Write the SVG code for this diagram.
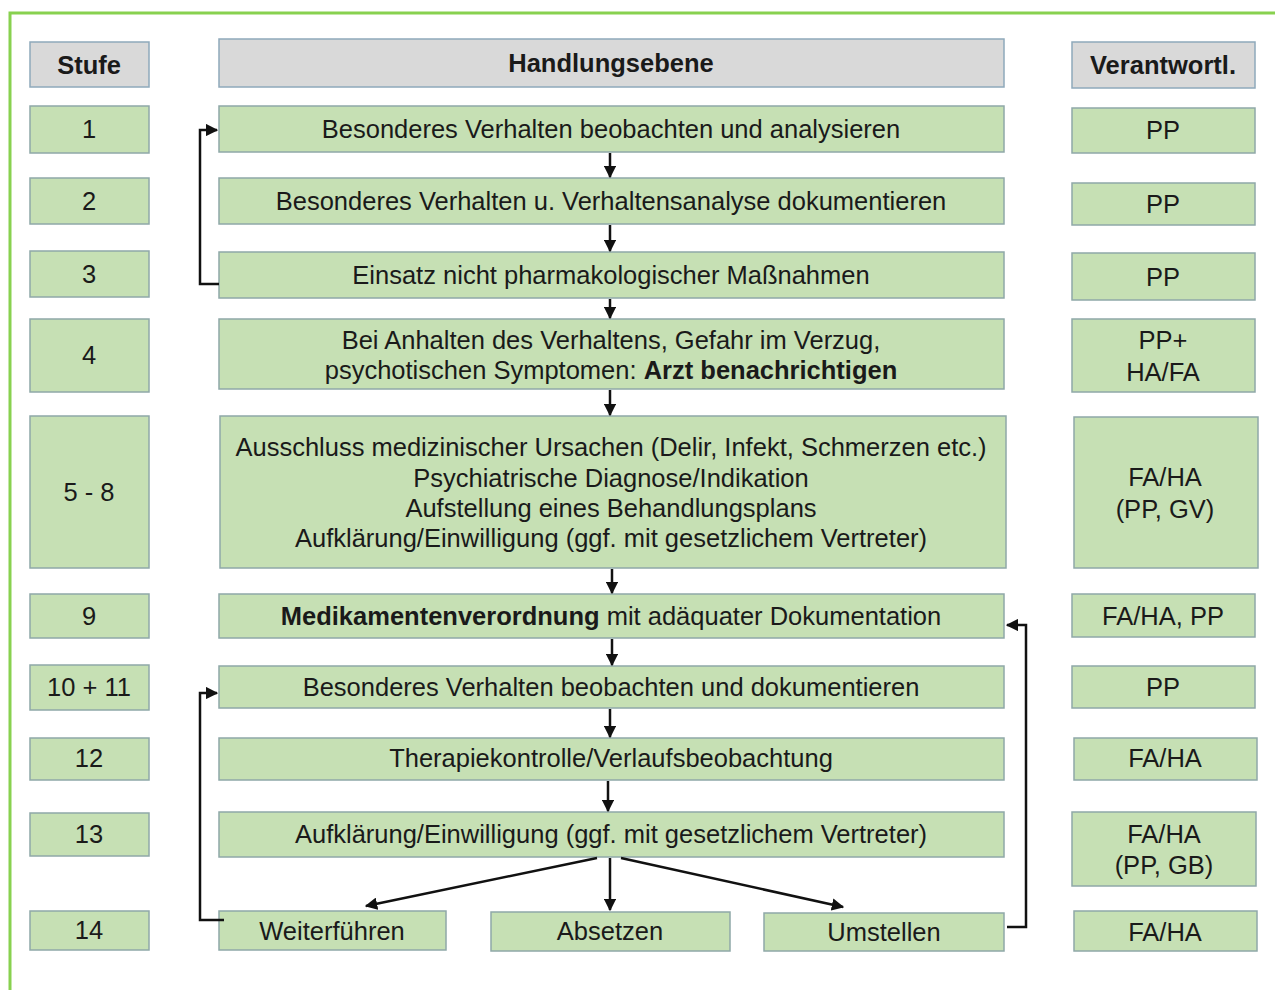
<svg xmlns="http://www.w3.org/2000/svg" width="1275" height="990" viewBox="0 0 1275 990">
<defs>
<style>
.g{fill:#c6e0b4;stroke:#8fa8a8;stroke-width:1.5}
.h{fill:#d9d9d9;stroke:#8ea9bb;stroke-width:1.5}
text{font-family:"Liberation Sans",Arial,sans-serif;font-size:25.5px;fill:#1a1a1a;text-anchor:middle}
.b{font-weight:bold}
.c{fill:none;stroke:#111;stroke-width:2.5}
</style>
<marker id="a" viewBox="0 0 10 10" refX="9" refY="5" markerWidth="5" markerHeight="5" orient="auto" markerUnits="strokeWidth">
<path d="M0,0 L10,5 L0,10 z" fill="#111"/>
</marker>
</defs>
<rect width="1275" height="990" fill="#fff"/>
<rect x="10" y="13" width="1300" height="1000" fill="none" stroke="#88d14f" stroke-width="3"/>

<g id="header-stufe"><rect class="h" x="30" y="42" width="119" height="45"/><text class="b" x="89" y="74">Stufe</text></g>
<g id="header-handlung"><rect class="h" x="219" y="39" width="785" height="48"/><text class="b" x="611" y="72">Handlungsebene</text></g>
<g id="header-verant"><rect class="h" x="1072" y="42" width="183" height="46"/><text class="b" x="1163" y="74">Verantwortl.</text></g>

<g id="s1"><rect class="g" x="30" y="106" width="119" height="47"/><text x="89" y="138">1</text></g>
<g id="h1"><rect class="g" x="219" y="106" width="785" height="46"/><text x="611" y="138">Besonderes Verhalten beobachten und analysieren</text></g>
<g id="v1"><rect class="g" x="1072" y="108" width="183" height="45"/><text x="1163" y="139">PP</text></g>

<g id="s2"><rect class="g" x="30" y="178" width="119" height="46"/><text x="89" y="210">2</text></g>
<g id="h2"><rect class="g" x="219" y="178" width="785" height="46"/><text x="611" y="210">Besonderes Verhalten u.  Verhaltensanalyse dokumentieren</text></g>
<g id="v2"><rect class="g" x="1072" y="183" width="183" height="42"/><text x="1163" y="213">PP</text></g>

<g id="s3"><rect class="g" x="30" y="251" width="119" height="46"/><text x="89" y="283">3</text></g>
<g id="h3"><rect class="g" x="219" y="252" width="785" height="46"/><text x="611" y="284">Einsatz nicht pharmakologischer Maßnahmen</text></g>
<g id="v3"><rect class="g" x="1072" y="253" width="183" height="47"/><text x="1163" y="286">PP</text></g>

<g id="s4"><rect class="g" x="30" y="319" width="119" height="73"/><text x="89" y="364">4</text></g>
<g id="h4"><rect class="g" x="219" y="319" width="785" height="70"/><text x="611" y="349">Bei Anhalten  des Verhaltens, Gefahr im Verzug,</text><text x="611" y="379">psychotischen Symptomen: <tspan class="b">Arzt benachrichtigen</tspan></text></g>
<g id="v4"><rect class="g" x="1072" y="319" width="183" height="73"/><text x="1163" y="349">PP+</text><text x="1163" y="381">HA/FA</text></g>

<g id="s5"><rect class="g" x="30" y="416" width="119" height="152"/><text x="89" y="501">5 - 8</text></g>
<g id="h5"><rect class="g" x="220" y="416" width="786" height="152"/><text x="611" y="456">Ausschluss medizinischer Ursachen (Delir,  Infekt,  Schmerzen etc.)</text><text x="611" y="487">Psychiatrische Diagnose/Indikation</text><text x="611" y="517">Aufstellung eines Behandlungsplans</text><text x="611" y="547">Aufklärung/Einwilligung  (ggf. mit gesetzlichem Vertreter)</text></g>
<g id="v5"><rect class="g" x="1074" y="417" width="184" height="151"/><text x="1165" y="486">FA/HA</text><text x="1165" y="518">(PP, GV)</text></g>

<g id="s9"><rect class="g" x="30" y="594" width="119" height="44"/><text x="89" y="625">9</text></g>
<g id="h9"><rect class="g" x="219" y="594" width="785" height="44"/><text x="611" y="625"><tspan class="b">Medikamentenverordnung</tspan> mit adäquater Dokumentation</text></g>
<g id="v9"><rect class="g" x="1072" y="594" width="183" height="43"/><text x="1163" y="625">FA/HA, PP</text></g>

<g id="s10"><rect class="g" x="30" y="665" width="119" height="45"/><text x="89" y="696">10 + 11</text></g>
<g id="h10"><rect class="g" x="219" y="666" width="785" height="42"/><text x="611" y="696">Besonderes Verhalten beobachten und dokumentieren</text></g>
<g id="v10"><rect class="g" x="1072" y="666" width="183" height="42"/><text x="1163" y="696">PP</text></g>

<g id="s12"><rect class="g" x="30" y="738" width="119" height="42"/><text x="89" y="767">12</text></g>
<g id="h12"><rect class="g" x="219" y="738" width="785" height="42"/><text x="611" y="767">Therapiekontrolle/Verlaufsbeobachtung</text></g>
<g id="v12"><rect class="g" x="1074" y="738" width="183" height="42"/><text x="1165" y="767">FA/HA</text></g>

<g id="s13"><rect class="g" x="30" y="813" width="119" height="43"/><text x="89" y="843">13</text></g>
<g id="h13"><rect class="g" x="219" y="812" width="785" height="45"/><text x="611" y="843">Aufklärung/Einwilligung  (ggf. mit gesetzlichem Vertreter)</text></g>
<g id="v13"><rect class="g" x="1072" y="812" width="184" height="74"/><text x="1164" y="843">FA/HA</text><text x="1164" y="874">(PP, GB)</text></g>

<g id="s14"><rect class="g" x="30" y="911" width="119" height="39"/><text x="89" y="939">14</text></g>
<g id="weiter"><rect class="g" x="219" y="911" width="227" height="39"/><text x="332" y="940">Weiterführen</text></g>
<g id="absetzen"><rect class="g" x="491" y="912" width="239" height="39"/><text x="610" y="940">Absetzen</text></g>
<g id="umstellen"><rect class="g" x="764" y="913" width="240" height="38"/><text x="884" y="941">Umstellen</text></g>
<g id="v14"><rect class="g" x="1074" y="911" width="183" height="40"/><text x="1165" y="941">FA/HA</text></g>

<g id="connectors">
<line class="c" x1="610" y1="153" x2="610" y2="177" marker-end="url(#a)"/>
<line class="c" x1="610" y1="225" x2="610" y2="251" marker-end="url(#a)"/>
<line class="c" x1="610" y1="299" x2="610" y2="318" marker-end="url(#a)"/>
<line class="c" x1="610" y1="390" x2="610" y2="415" marker-end="url(#a)"/>
<line class="c" x1="612" y1="569" x2="612" y2="593" marker-end="url(#a)"/>
<line class="c" x1="612" y1="639" x2="612" y2="665" marker-end="url(#a)"/>
<line class="c" x1="610" y1="709" x2="610" y2="737" marker-end="url(#a)"/>
<line class="c" x1="608" y1="781" x2="608" y2="811" marker-end="url(#a)"/>
<polyline class="c" points="219,284 200,284 200,130 217,130" marker-end="url(#a)"/>
<polyline class="c" points="224,920 200,920 200,693 217,693" marker-end="url(#a)"/>
<polyline class="c" points="1007,927 1026,927 1026,625 1007,625" marker-end="url(#a)"/>
<line class="c" x1="597" y1="858" x2="366" y2="906" marker-end="url(#a)"/>
<line class="c" x1="610" y1="858" x2="610" y2="910" marker-end="url(#a)"/>
<line class="c" x1="621" y1="858" x2="843" y2="907" marker-end="url(#a)"/>
</g>
</svg>
